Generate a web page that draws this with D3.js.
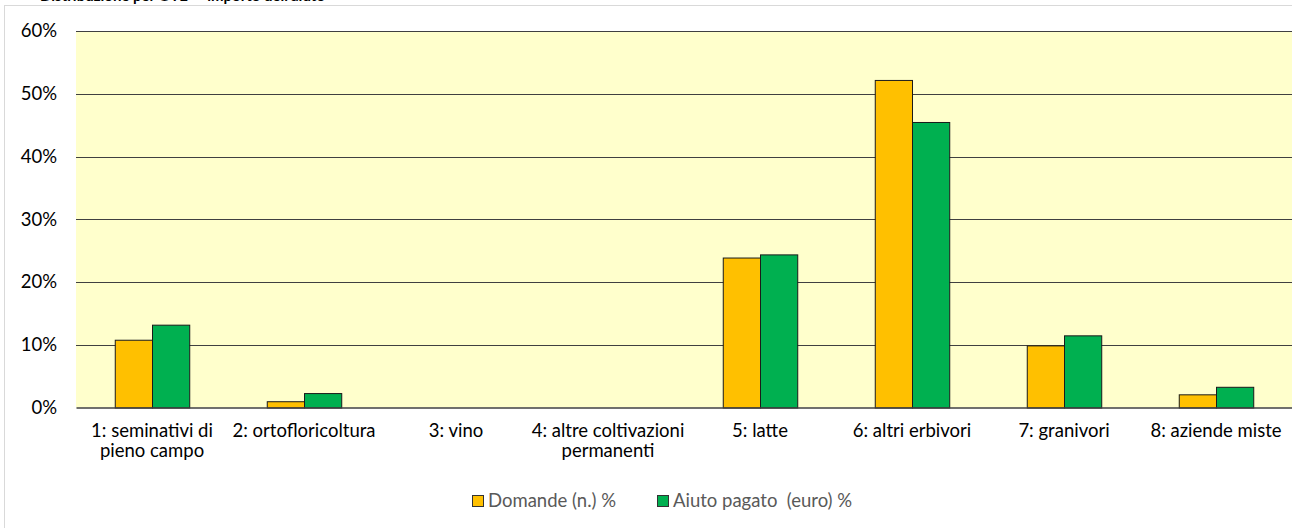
<!DOCTYPE html>
<html lang="en">
  <head>
    <meta charset="utf-8" />
    <title>Domande e aiuto pagato per OTE</title>
    <style>
      body {
        margin: 0;
        background: #fff;
      }
      #chart text {
        font-family: Lato, 'Open Sans', sans-serif;
      }
    </style>
  </head>
  <body>
    <div id="chart"></div>

    <script src="https://cdn.jsdelivr.net/npm/d3@7"></script>
    <script type="text/javascript">
      // Data ("\n" = line break in the axis label)
      var categories = [
        '1: seminativi di\npieno campo',
        '2: ortofloricoltura',
        '3: vino',
        '4: altre coltivazioni\npermanenti',
        '5: latte',
        '6: altri erbivori',
        '7: granivori',
        '8: aziende miste'
      ]
      var domande = [10.8, 1.0, 0, 0, 23.9, 52.2, 9.9, 2.1]
      var aiuto = [13.2, 2.3, 0, 0, 24.4, 45.5, 11.5, 3.3]
      var seriesNames = ['Domande (n.) %', 'Aiuto pagato  (euro) %']
      var seriesColors = ['#FFC000', '#00B050']
      var yTicks = [0, 10, 20, 30, 40, 50, 60]

      var W = 1292,
        H = 528
      var margin = { top: 31, right: 0, bottom: 120.5, left: 76 }
      var width = W - margin.left - margin.right,
        height = H - margin.top - margin.bottom
      var fontSize = '18.5px'

      var svg = d3.select('#chart').append('svg').attr('width', W).attr('height', H)

      // cut-off title peeking at the top edge
      svg
        .append('text')
        .attr('x', 40)
        .attr('y', 1)
        .style('font-weight', 'bold')
        .style('font-size', '15px')
        .attr('fill', '#000')
        .text("Distribuzione per OTE — importo dell'aiuto")

      // chart frame
      svg
        .append('rect')
        .attr('x', 4.5)
        .attr('y', 5.5)
        .attr('width', W)
        .attr('height', H)
        .attr('fill', 'none')
        .attr('stroke', '#d9d9d9')

      var g = svg.append('g').attr('transform', 'translate(' + margin.left + ',' + margin.top + ')')

      var x0 = d3.scaleBand().domain(categories).range([0, width]).paddingInner(0.51).paddingOuter(0.255)
      var x1 = d3.scaleBand().domain([0, 1]).range([0, x0.bandwidth()])
      var y = d3.scaleLinear().domain([0, 60]).range([height, 0])

      g.append('rect').attr('width', width).attr('height', height).attr('fill', '#FFFFCC')

      // gridlines
      g.selectAll('.grid')
        .data(yTicks.filter((d) => d > 0))
        .enter()
        .append('line')
        .attr('x1', 0)
        .attr('x2', width)
        .attr('y1', (d) => Math.round(y(d)) + 0.5)
        .attr('y2', (d) => Math.round(y(d)) + 0.5)
        .attr('stroke', '#404040')
        .attr('stroke-width', 1)

      // y axis labels
      var yAxis = g
        .append('g')
        .call(
          d3
            .axisLeft(y)
            .tickValues(yTicks)
            .tickSize(0)
            .tickPadding(19)
            .tickFormat((d) => d + '%')
        )
      yAxis.select('.domain').remove()
      yAxis.selectAll('text').style('font-size', fontSize).attr('fill', '#000')

      // bars
      var rows = categories.map((c, i) => ({ cat: c, vals: [domande[i], aiuto[i]] }))
      var groups = g
        .selectAll('.cat')
        .data(rows)
        .enter()
        .append('g')
        .attr('transform', (d) => 'translate(' + x0(d.cat) + ',0)')
      groups
        .selectAll('rect')
        .data((d) => d.vals.filter((v) => v > 0).map((v, k) => ({ k: k, v: v })))
        .enter()
        .append('rect')
        .attr('x', (d) => x1(d.k) + 0.5)
        .attr('y', (d) => y(d.v) + 0.5)
        .attr('width', x1.bandwidth())
        .attr('height', (d) => height - y(d.v))
        .attr('fill', (d) => seriesColors[d.k])
        .attr('stroke', '#1a1a1a')
        .attr('stroke-width', 1)

      // x axis
      var xAxis = g
        .append('g')
        .attr('transform', 'translate(0,' + height + ')')
        .call(d3.axisBottom(x0).tickSize(0).tickPadding(16))
      xAxis.select('.domain').attr('stroke', '#404040').attr('stroke-width', 1.5)
      xAxis.selectAll('text').style('font-size', fontSize).attr('fill', '#000').each(function () {
        var t = d3.select(this)
        var lines = t.text().split('\n')
        var yy = t.attr('y'),
          dy = parseFloat(t.attr('dy'))
        t.text(null)
        lines.forEach(function (l, i) {
          t.append('tspan')
            .attr('x', 0)
            .attr('y', yy)
            .attr('dy', i * 1.1 + dy + 'em')
            .text(l)
        })
      })

      // legend
      var legendX = [472, 657]
      var legend = svg
        .selectAll('.legend')
        .data(seriesNames)
        .enter()
        .append('g')
        .attr('transform', (d, i) => 'translate(' + legendX[i] + ',495)')
      legend
        .append('rect')
        .attr('x', 0.5)
        .attr('y', 0.5)
        .attr('width', 11)
        .attr('height', 11)
        .attr('fill', (d, i) => seriesColors[i])
        .attr('stroke', '#333')
      legend
        .append('text')
        .attr('x', 16)
        .attr('y', 12)
        .style('font-size', fontSize)
        .style('white-space', 'pre')
        .attr('fill', '#595959')
        .text((d) => d)
    </script>
  </body>
</html>
